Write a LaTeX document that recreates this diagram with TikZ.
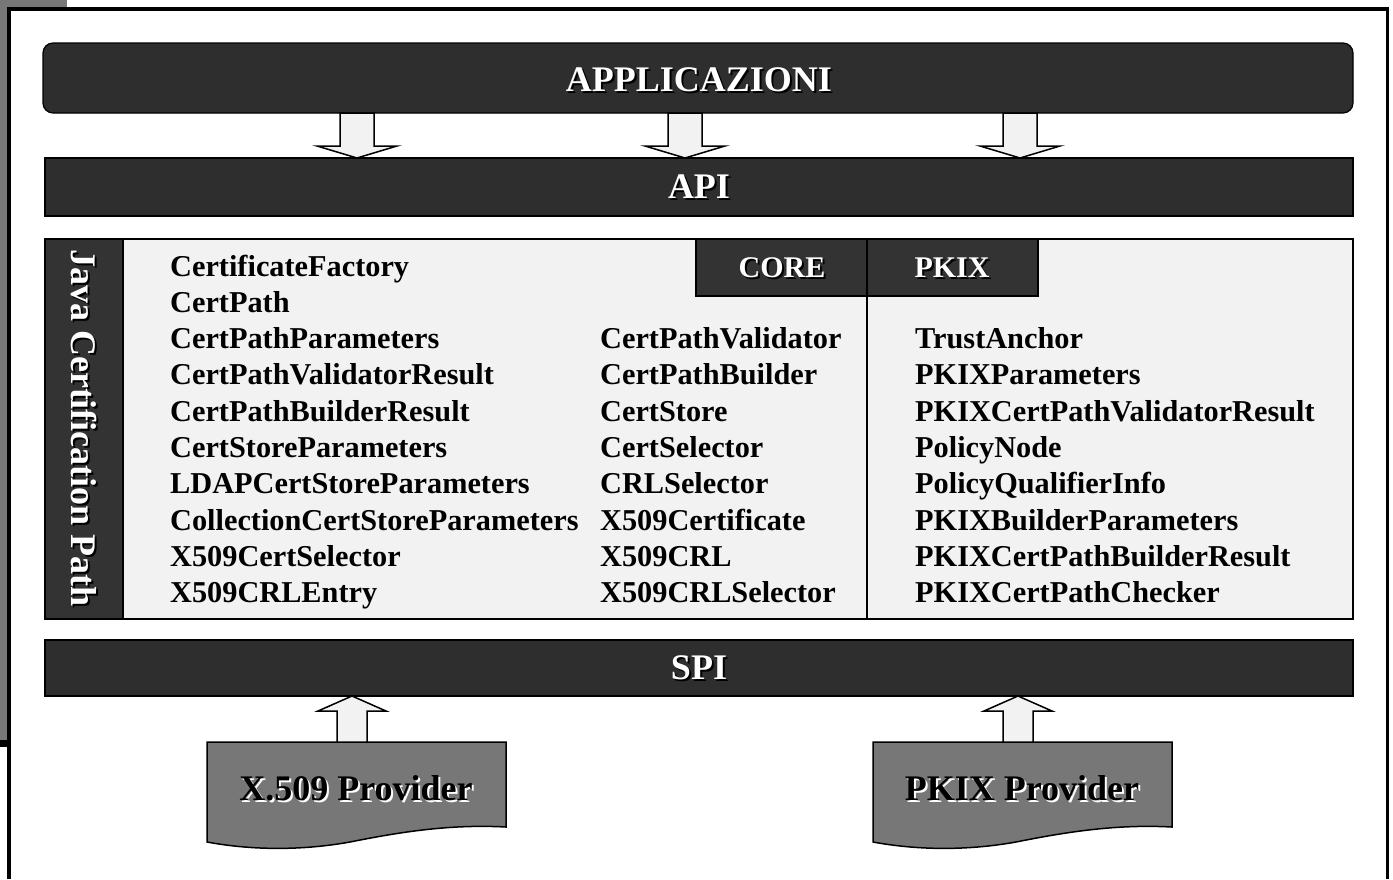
\documentclass[tikz,border=0pt]{standalone}
\usepackage{fontspec}
\setmainfont{Liberation Serif}
\usetikzlibrary{calc}

\definecolor{bardark}{HTML}{2E2E2E}
\definecolor{tabdark}{HTML}{333333}
\definecolor{panelbg}{HTML}{F2F2F2}
\definecolor{provgray}{HTML}{777777}

\tikzset{
  bar/.style={draw=black, line width=1.2pt, fill=bardark},
  panel/.style={draw=black, line width=1.2pt, fill=panelbg},
  tab/.style={draw=black, line width=1.2pt, fill=tabdark},
  provider/.style={draw=black, line width=1.5pt, fill=provgray},
  blockarrow/.style={draw=black, line width=1.5pt, fill=panelbg, line join=miter},
  headtext/.style={inner sep=0pt, font=\bfseries\fontsize{36}{40}\selectfont, text=white},
  tabtext/.style={inner sep=0pt, font=\bfseries\fontsize{30}{34}\selectfont, text=white},
  provtext/.style={inner sep=0pt, font=\bfseries\fontsize{36}{40}\selectfont, text=black},
  item/.style={inner sep=0pt, anchor=base west, font=\bfseries\fontsize{30.3}{34}\selectfont, text=black},
}

% text with a drop shadow: #1 style, #2 shadow colour, #3 name, #4 position, #5 text
\newcommand\shadowed[5]{%
  \node[#1, text=#2] at ($(#4)+(2,2)$) {#5};
  \node[#1] (#3) at (#4) {#5};
}

% block arrow pointing down: #1 top centre, #2 tip
\newcommand\downblock[2]{%
  \draw[blockarrow] let \p1=(#1), \p2=(#2) in
    (\x1-17pt,\y1) -- (\x1+17pt,\y1) -- (\x1+17pt,\y2+12pt) -- (\x1+40pt,\y2+12pt)
    -- (\x1,\y2) -- (\x1-40pt,\y2+12pt) -- (\x1-17pt,\y2+12pt) -- cycle;
}
% block arrow pointing up: #1 bottom centre, #2 tip
\newcommand\upblock[2]{%
  \draw[blockarrow] let \p1=(#1), \p2=(#2) in
    (\x1-15pt,\y1) -- (\x1+15pt,\y1) -- (\x1+15pt,\y2-15pt) -- (\x1+34pt,\y2-15pt)
    -- (\x1,\y2) -- (\x1-34pt,\y2-15pt) -- (\x1-15pt,\y2-15pt) -- cycle;
}

\begin{document}
\begin{tikzpicture}[x=1pt, y=-1pt]
\useasboundingbox (0,0) rectangle (1393,879);

% slide tab and outer frame
\fill[provgray] (0,0) rectangle (67,745);
\fill[black] (0,740) rectangle (9,747);
\fill[white] (9,9) rectangle (1387.5,879);
\draw[line width=3.5pt] (9,879) -- (9,9) -- (1387.5,9) -- (1387.5,879);

% layer bars
\path[bar, rounded corners=10pt] (43,43) rectangle (1353,113);
\coordinate (applc) at (699,80);
\shadowed{headtext}{black}{appl}{applc}{APPLICAZIONI}
\path[bar] (45,158) rectangle (1353,216);
\coordinate (apic) at (699,187);
\shadowed{headtext}{black}{api}{apic}{API}
\path[bar] (45,640) rectangle (1353,696);
\coordinate (spic) at (699,668);
\shadowed{headtext}{black}{spi}{spic}{SPI}

% arrows from the applications to the API
\coordinate (a1t) at (357,113); \coordinate (a1b) at (357,158);
\coordinate (a2t) at (685,113); \coordinate (a2b) at (685,158);
\coordinate (a3t) at (1020,113); \coordinate (a3b) at (1020,158);
\downblock{a1t}{a1b}
\downblock{a2t}{a2b}
\downblock{a3t}{a3b}

% certification path panel
\path[panel] (45,239) rectangle (1353,619);
\path[tab] (45,239) rectangle (123,619);
\draw[line width=1.2pt] (867,239) -- (867,619);
\path[tab] (696,239) rectangle (867,296);
\path[tab] (867,239) rectangle (1038,296);
\coordinate (corec) at (782,268);
\coordinate (pkixc) at (952,268);
\coordinate (javac) at (84,428);
\shadowed{tabtext}{black}{core}{corec}{CORE}
\shadowed{tabtext}{black}{pkix}{pkixc}{PKIX}
\shadowed{headtext, rotate=-90}{black}{java}{javac}{Java Certification Path}

% class lists
\foreach \t [count=\i from 0] in {CertificateFactory, CertPath, CertPathParameters,
    CertPathValidatorResult, CertPathBuilderResult, CertStoreParameters,
    LDAPCertStoreParameters, CollectionCertStoreParameters, X509CertSelector, X509CRLEntry}
  \node[item] (l\i) at (170, 276+36.3*\i) {\t};
\foreach \t [count=\i from 2] in {CertPathValidator, CertPathBuilder, CertStore,
    CertSelector, CRLSelector, X509Certificate, X509CRL, X509CRLSelector}
  \node[item] (m\i) at (600, 276+36.3*\i) {\t};
\foreach \t [count=\i from 2] in {TrustAnchor, PKIXParameters, PKIXCertPathValidatorResult,
    PolicyNode, PolicyQualifierInfo, PKIXBuilderParameters, PKIXCertPathBuilderResult,
    PKIXCertPathChecker}
  \node[item] (r\i) at (915, 276+36.3*\i) {\t};

% providers
\path[provider] (207,742) -- (506,742) -- (506,827)
  .. controls (450,824) and (400,832) .. (350,842)
  .. controls (300,851) and (250,850) .. (207,842) -- cycle;
\path[provider] (873,742) -- (1172,742) -- (1172,827)
  .. controls (1116,824) and (1066,832) .. (1016,842)
  .. controls (966,851) and (916,850) .. (873,842) -- cycle;
\coordinate (x509c) at (356,788);
\coordinate (pkixpc) at (1022,788);
\shadowed{provtext}{white}{x509}{x509c}{X.509 Provider}
\shadowed{provtext}{white}{pkixp}{pkixpc}{PKIX Provider}

% arrows from the providers to the SPI
\coordinate (u1b) at (352,742); \coordinate (u1t) at (352,696);
\coordinate (u2b) at (1018,742); \coordinate (u2t) at (1018,696);
\upblock{u1b}{u1t}
\upblock{u2b}{u2t}
\end{tikzpicture}
\end{document}
